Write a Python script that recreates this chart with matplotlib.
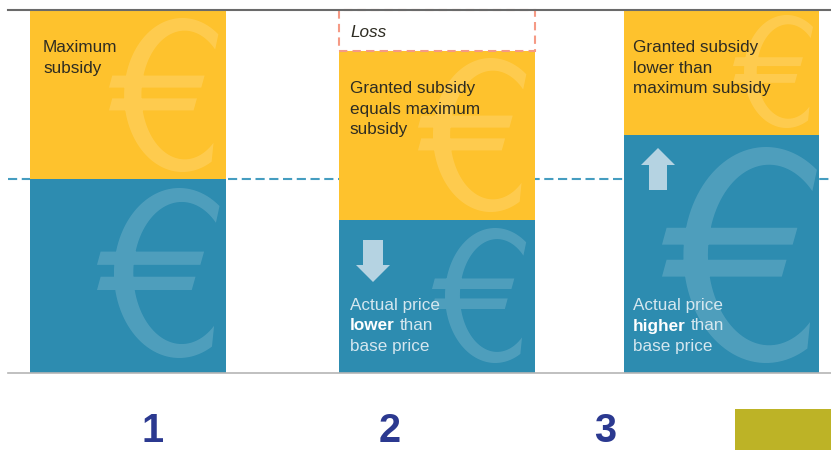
"""Maximum subsidy / granted subsidy diagram, three cases."""
import matplotlib
matplotlib.use("Agg")
import numpy as np
import matplotlib.pyplot as plt
from matplotlib.patches import PathPatch, Polygon, Rectangle
from matplotlib.path import Path

# values, in pixels above the baseline
case_labels = ['1', '2', '3']
base_price = [194, 153, 238]
subsidy = [169, 169, 125]
loss = [0, 41, 0]
reference_level = 194

BLUE = '#2d8cb0'
YELLOW = '#fec22d'
SALMON = '#f59a85'
NAVY = '#2b3990'
DARK = '#2e2c22'
LIGHT = '#d5e7ef'
TXT = 12.3
BASE = 372.5   # pixel row of the baseline

bar_left = [30, 339, 623.5]
bar_width = 195.5
label_x = [153, 389.5, 605]

plt.rcParams['font.family'] = ['Liberation Sans', 'DejaVu Sans']
fig = plt.figure(figsize=(8.31, 4.5), dpi=100)
ax = fig.add_axes([0, 0, 1, 1])
ax.set_xlim(0, 831)
ax.set_ylim(BASE - 450, BASE)
ax.axis('off')


def euro_shape():
    # thin euro sign in a unit box: a C and two slanted bars, all counter-clockwise
    t_out = np.radians(np.linspace(52, 300, 80))
    t_in = np.radians(np.linspace(312, 45, 80))
    c = np.r_[np.c_[0.68 + 0.54 * np.cos(t_out), 0.5 + 0.5 * np.sin(t_out)],
              np.c_[0.70 + 0.40 * np.cos(t_in), 0.5 + 0.418 * np.sin(t_in)]]
    bar1 = np.array([(0, 0.548), (0.854, 0.548), (0.885, 0.626), (0.03, 0.626)])
    bar2 = np.array([(0, 0.40), (0.783, 0.40), (0.814, 0.478), (0.03, 0.478)])
    return [c, bar1, bar2]


def euro(x0, x1, y0, y1):
    # box given in picture pixels, y from the top
    verts, codes = [], []
    for part in euro_shape():
        p = np.c_[x0 + part[:, 0] * (x1 - x0), BASE - y1 + part[:, 1] * (y1 - y0)]
        verts += list(p) + [p[0]]
        codes += [Path.MOVETO] + [Path.LINETO] * (len(p) - 1) + [Path.CLOSEPOLY]
    ax.add_patch(PathPatch(Path(verts, codes), fc='white', ec='none', alpha=0.16, zorder=3))


def arrow(x, tail, head, head_base, shaft, half):
    # block arrow, y values in picture pixels from the top
    pts = [(x - shaft, tail), (x - shaft, head_base), (x - half, head_base), (x, head),
           (x + half, head_base), (x + shaft, head_base), (x + shaft, tail)]
    ax.add_patch(Polygon([(a, BASE - b) for a, b in pts], fc='#b5d3e2', ec='none', zorder=4))


def lines(x, baseline, rows, color):
    for i, row in enumerate(rows):
        ax.text(x, BASE - baseline - i * 20.5, row, color=color, fontsize=TXT, va='baseline', zorder=5)


# reference level and frame lines
ax.plot([8, 831], [reference_level] * 2, color='#459dc0', lw=1.5, dashes=(4.4, 2.2), zorder=1)
ax.plot([8, 831], [363, 363], color='#6a6a6a', lw=1.5, zorder=6)
ax.plot([8, 831], [0, 0], color='#b5b5b5', lw=1.2, zorder=6)

# stacked bars
ax.bar(bar_left, base_price, width=bar_width, align='edge', color=BLUE, zorder=2)
ax.bar(bar_left, subsidy, width=bar_width, bottom=base_price, align='edge', color=YELLOW, zorder=2)

# loss box for the second case
ax.add_patch(Rectangle((bar_left[1], base_price[1] + subsidy[1]), bar_width, loss[1],
                       fc='white', ec=SALMON, lw=1.5, ls=(0, (4, 2.5)), zorder=2))
ax.text(350, BASE - 36.7, 'Loss', style='italic', color=DARK, fontsize=TXT, va='baseline')

# euro watermarks
euro(109, 217, 18, 172)
euro(97, 218, 188, 358)
euro(418, 525, 58, 212)
euro(432, 525, 228, 363)
euro(733, 812, 15, 128)
euro(662, 815, 147, 363)

arrow(373, 240, 282, 265, 10, 17)
arrow(658, 190, 148, 165, 9, 17)

# texts
lines(43, 52.3, ['Maximum', 'subsidy'], DARK)
lines(349.5, 93.3, ['Granted subsidy', 'equals maximum', 'subsidy'], DARK)
lines(633, 52.3, ['Granted subsidy', 'lower than', 'maximum subsidy'], DARK)
lines(349.5, 310, ['Actual price'], LIGHT)
lines(349.5, 351, ['base price'], LIGHT)
lines(633, 310, ['Actual price'], LIGHT)
lines(633, 351, ['base price'], LIGHT)

renderer = fig.canvas.get_renderer()
for x, word in [(349.5, 'lower'), (633, 'higher')]:
    b = ax.text(x, BASE - 330.5, word, color='white', fontsize=TXT, weight='bold', va='baseline', zorder=5)
    w = b.get_window_extent(renderer).width
    ax.text(x + w + 5, BASE - 330.5, 'than', color=LIGHT, fontsize=TXT, va='baseline', zorder=5)

# case numbers
for x, lab in zip(label_x, case_labels):
    ax.text(x, BASE - 442, lab, color=NAVY, fontsize=28.5, weight='bold', ha='center', va='baseline')

# olive block at the lower right
ax.add_patch(Rectangle((735, BASE - 450), 96, 41, fc='#bdb326', ec='none'))

fig.savefig('out.png', dpi=100, facecolor='white')
